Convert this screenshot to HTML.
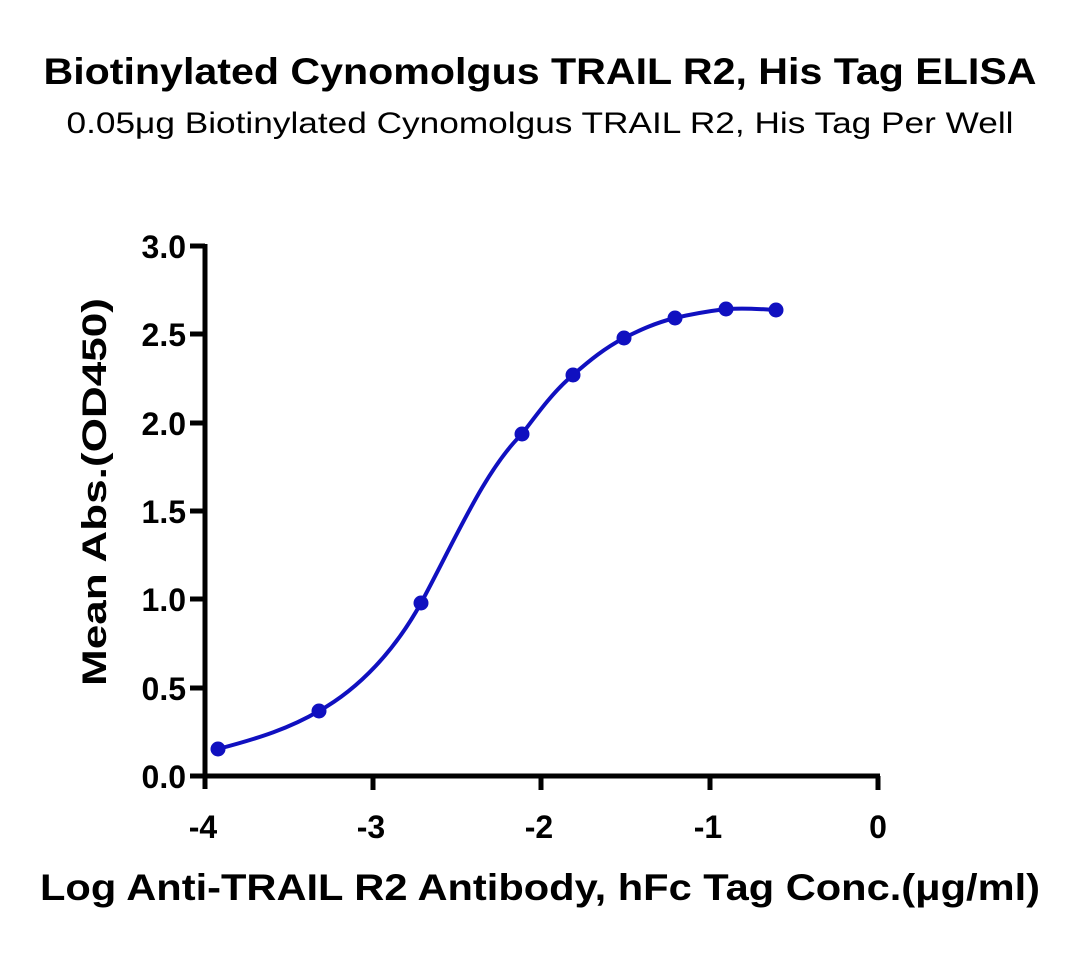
<!DOCTYPE html>
<html><head><style>body{margin:0;background:#fff}</style></head><body>
<svg width="1080" height="952" xmlns="http://www.w3.org/2000/svg" font-family="Liberation Sans, DejaVu Sans, sans-serif">
<text x="540" y="84" text-anchor="middle" font-size="37" font-weight="bold" textLength="993" lengthAdjust="spacingAndGlyphs">Biotinylated Cynomolgus TRAIL R2, His Tag ELISA</text>
<text x="540" y="133" text-anchor="middle" font-size="30" textLength="947" lengthAdjust="spacingAndGlyphs">0.05μg Biotinylated Cynomolgus TRAIL R2, His Tag Per Well</text>
<g stroke="#000" stroke-width="5" fill="none">
<line x1="205" y1="244" x2="205" y2="789"/>
<line x1="203" y1="776" x2="880" y2="776"/>
<line x1="190" y1="246" x2="205" y2="246"/>
<line x1="190" y1="334" x2="205" y2="334"/>
<line x1="190" y1="423" x2="205" y2="423"/>
<line x1="190" y1="511" x2="205" y2="511"/>
<line x1="190" y1="599" x2="205" y2="599"/>
<line x1="190" y1="688" x2="205" y2="688"/>
<line x1="190" y1="776" x2="205" y2="776"/>
<line x1="373" y1="776" x2="373" y2="790"/>
<line x1="541" y1="776" x2="541" y2="790"/>
<line x1="710" y1="776" x2="710" y2="790"/>
<line x1="878" y1="776" x2="878" y2="790"/>
</g>
<g font-size="32" font-weight="bold" text-anchor="end">
<text x="186" y="258">3.0</text><text x="186" y="346">2.5</text><text x="186" y="435">2.0</text>
<text x="186" y="523">1.5</text><text x="186" y="611">1.0</text><text x="186" y="700">0.5</text><text x="186" y="788">0.0</text>
</g>
<g font-size="32" font-weight="bold" text-anchor="middle">
<text x="203" y="838">-4</text><text x="371" y="838">-3</text><text x="539" y="838">-2</text><text x="708" y="838">-1</text><text x="878" y="838">0</text>
</g>
<text x="540" y="900" text-anchor="middle" font-size="37" font-weight="bold" textLength="1000" lengthAdjust="spacingAndGlyphs">Log Anti-TRAIL R2 Antibody, hFc Tag Conc.(μg/ml)</text>
<text transform="translate(106,492) rotate(-90)" text-anchor="middle" font-size="34" font-weight="bold" textLength="388" lengthAdjust="spacingAndGlyphs">Mean Abs.(OD450)</text>
<path d="M218,749 C260,738 290,728 319,711 C360,688 395,650 421,603 C455,540 485,470 522,434 C540,410 555,390 573,375 C590,360 605,348 624,338 C640,330 655,323 675,318 C692,314 710,311 726,309 C745,308 760,309 776,310" stroke="#1010c0" stroke-width="4" fill="none"/>
<g fill="#1010c0">
<circle cx="218" cy="749" r="7.5"/><circle cx="319" cy="711" r="7.5"/><circle cx="421" cy="603" r="7.5"/>
<circle cx="522" cy="434" r="7.5"/><circle cx="573" cy="375" r="7.5"/><circle cx="624" cy="338" r="7.5"/>
<circle cx="675" cy="318" r="7.5"/><circle cx="726" cy="309" r="7.5"/><circle cx="776" cy="310" r="7.5"/>
</g>
</svg>
</body></html>
